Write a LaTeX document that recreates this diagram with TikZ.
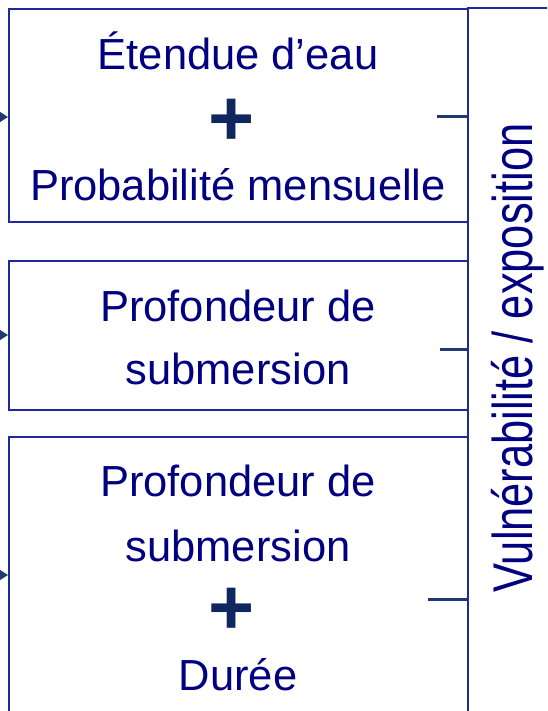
\documentclass[tikz,border=0pt]{standalone}
\usepackage{fontspec}
\setmainfont{Liberation Sans}
\usetikzlibrary{arrows.meta}
\definecolor{txtnavy}{HTML}{000080}
\definecolor{plusnavy}{HTML}{0F2660}
\definecolor{boxblue}{HTML}{1C2A9C}
\definecolor{linkblue}{HTML}{1F3A72}
\tikzset{
  box/.style={draw=boxblue, line width=1.8pt, rectangle, inner sep=0pt},
  line/.style={font=\fontsize{43.5}{52}\selectfont, text=txtnavy, inner sep=0pt, anchor=base},
  plus/.style={font=\fontsize{79}{90}\selectfont\bfseries, text=plusnavy, inner sep=0pt, anchor=base},
  arr/.style={draw=linkblue, line width=2pt, -{Triangle[length=9pt,width=11pt]}},
  tick/.style={draw=linkblue, line width=3pt},
}
\begin{document}
\begin{tikzpicture}[x=1pt,y=-1pt]
\useasboundingbox (0,0) rectangle (547,711);
\begin{scope}
\clip (0,0) rectangle (547,711);
% right panel
\node[box, minimum width=120, minimum height=760, anchor=north west] (vp) at (467,7) {};
\node[rotate=90, anchor=base, inner sep=0pt, text=txtnavy, font=\fontsize{56}{60}\selectfont] (vt) at (532,358) {\scalebox{0.775}[1]{Vulnérabilité / exposition}};
% boxes
\node[box, minimum width=459, minimum height=213, anchor=north west] (b1) at (8,8) {};
\node[box, minimum width=459, minimum height=149, anchor=north west] (b2) at (8,260) {};
\node[box, minimum width=459, minimum height=290, anchor=north west] (b3) at (8,436) {};
% texts box 1
\node[line] (t11) at (238,70) {Étendue d’eau};
\node[plus] (p1) at (232,146) {+};
\node[line] (t12) at (238,201) {Probabilité mensuelle};
% texts box 2
\node[line] (t21) at (238,321) {Profondeur de};
\node[line] (t22) at (238,384) {submersion};
% texts box 3
\node[line] (t31) at (238,496) {Profondeur de};
\node[line] (t32) at (238,561) {submersion};
\node[plus] (p3) at (232,634) {+};
\node[line] (t33) at (238,690) {Durée};
% left arrows
\coordinate (a1) at (-4,117);
\coordinate (a2) at (-4,335);
\coordinate (a3) at (-4,575);
\draw[arr] (a1) -- (a1 -| b1.west);
\draw[arr] (a2) -- (a2 -| b2.west);
\draw[arr] (a3) -- (a3 -| b3.west);
% ticks from vertical panel
\coordinate (d1) at (437,117);
\coordinate (d2) at (440,349);
\coordinate (d3) at (428,599);
\draw[tick] (d1) -- (d1 -| vp.west);
\draw[tick] (d2) -- (d2 -| vp.west);
\draw[tick] (d3) -- (d3 -| vp.west);
\end{scope}
\end{tikzpicture}
\end{document}
